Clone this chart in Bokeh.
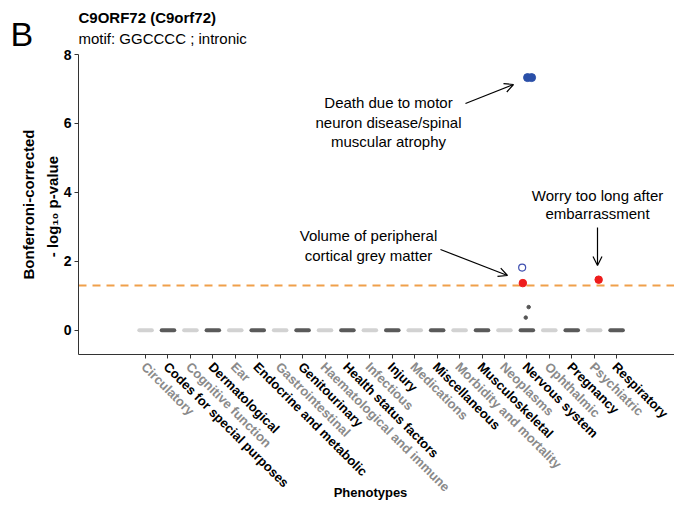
import math
from bokeh.plotting import figure
from bokeh.models import (ColumnDataSource, LabelSet, Label, Arrow, OpenHead,
                          FixedTicker, Range1d, LinearAxis)
from bokeh.core.properties import value
from bokeh.embed import file_html
from bokeh.resources import INLINE

# ---------------- data ----------------
categories = ["Circulatory", "Codes for special purposes", "Cognitive function",
              "Dermatological", "Ear", "Endocrine and metabolic", "Gastrointestinal",
              "Genitourinary", "Haematological and immune", "Health status factors",
              "Infectious", "Injury", "Medications", "Miscellaneous",
              "Morbidity and mortality", "Musculoskeletal", "Neoplasms", "Nervous system",
              "Ophthalmic", "Pregnancy", "Psychiatric", "Respiratory"]
baseline_values = [0.0] * len(categories)

# notable hits (category, horizontal jitter, -log10 p)
blue_cat = ["Nervous system", "Nervous system"]
blue_jit = [0.03, 0.21]
blue_val = [7.33, 7.33]

open_cat = ["Nervous system"]
open_jit = [-0.21]
open_val = [1.82]

red_cat = ["Nervous system", "Psychiatric"]
red_jit = [-0.18, 0.20]
red_val = [1.37, 1.47]

small_cat = ["Nervous system", "Nervous system"]
small_jit = [0.08, -0.05]
small_val = [0.675, 0.37]

y_ticks = [0, 2, 4, 6, 8]
threshold = -math.log10(0.05)

title = "C9ORF72 (C9orf72)"
subtitle = "motif: GGCCCC ; intronic"

# ---------------- layout (pixels) ----------------
FIG_W, FIG_H = 674, 500
PL, PT, PB = 78, 54, 354               # panel box inside the canvas
PX_PER_X = 22.43                        # pixels per category step
X0 = -1.99
X1 = X0 + (FIG_W - PL) / PX_PER_X
Y0, Y1 = -0.7, 8.0
kx = 1.0 / PX_PER_X
ky = (Y1 - Y0) / (PB - PT)

def dx(px):   # canvas pixel -> data x
    return X0 + (px - PL) * kx

def dy(py):   # canvas pixel -> data y
    return Y0 + (PB - py) * ky

cat_pos = {c: i + 1 for i, c in enumerate(categories)}
xs = [cat_pos[c] for c in categories]
FONT = "Liberation Sans"

p = figure(width=FIG_W, height=FIG_H,
           x_range=Range1d(dx(0), dx(FIG_W)), y_range=Range1d(dy(FIG_H), dy(0)),
           output_backend="svg", toolbar_location=None,
           x_axis_location=None, y_axis_location=None,
           min_border_left=0, min_border_right=0, min_border_top=0, min_border_bottom=0)
p.xgrid.visible = False
p.ygrid.visible = False
p.outline_line_color = None
p.background_fill_color = "white"
p.border_fill_color = "white"

xaxis = LinearAxis(fixed_location=Y0, bounds=(X0, X1))
yaxis = LinearAxis(fixed_location=X0, bounds=(Y0, Y1))
for ax in (xaxis, yaxis):
    ax.axis_line_color = "#333333"
    ax.axis_line_width = 1
    ax.major_tick_line_color = "#333333"
    ax.major_tick_out = 4
    ax.major_tick_in = 0
    ax.minor_tick_line_color = None

xaxis.ticker = FixedTicker(ticks=xs)
xaxis.major_label_text_alpha = 0.0
xaxis.major_label_text_font_size = "1px"

yaxis.ticker = FixedTicker(ticks=y_ticks)
yaxis.major_label_text_font = FONT
yaxis.major_label_text_font_style = "bold"
yaxis.major_label_text_font_size = "14px"
yaxis.major_label_text_color = "black"
yaxis.major_label_standoff = 3
p.add_layout(xaxis, "below")
p.add_layout(yaxis, "left")

# baseline clusters at 0
light, dark = "#d2d2d2", "#5a5a5a"
cols = [light if i % 2 == 0 else dark for i in range(len(categories))]
half = 0.28
seg_src = ColumnDataSource(dict(x0=[x - half for x in xs], x1=[x + half for x in xs],
                                y=baseline_values, c=cols))
p.segment(x0="x0", x1="x1", y0="y", y1="y", source=seg_src, line_color="c",
          line_width=4, line_cap="round")

# threshold line
p.segment(x0=[X0], x1=[X1], y0=[threshold], y1=[threshold], line_color="#F0A04B",
          line_dash="8 6", line_width=1.8)

# points
p.scatter([cat_pos[c] + j for c, j in zip(small_cat, small_jit)], small_val,
          size=3.5, color="#555555")
p.scatter([cat_pos[c] + j for c, j in zip(blue_cat, blue_jit)], blue_val,
          size=8, color="#2a4fa8")
p.scatter([cat_pos[c] + j for c, j in zip(open_cat, open_jit)], open_val,
          size=7, fill_color=None, line_color="#4050b0", line_width=1.2)
p.scatter([cat_pos[c] + j for c, j in zip(red_cat, red_jit)], red_val,
          size=7.5, color="#ee1c1c")

# x tick labels (alternating grey / black)
lab_cols = ["#8a8a8a" if i % 2 == 0 else "black" for i in range(len(categories))]
lab_src = ColumnDataSource(dict(x=[x - 2 * kx for x in xs], y=[dy(PB + 10)] * len(xs),
                                t=categories, c=lab_cols))
p.add_layout(LabelSet(x="x", y="y", text="t", source=lab_src, angle=-math.pi / 4,
                      text_align="left", text_baseline="middle", text_color="c",
                      text_font=value(FONT), text_font_style="bold",
                      text_font_size="13px"))

def lab(px, py, text, size="15px", style="normal", align="center", angle=0.0,
        color="black", baseline="middle"):
    p.add_layout(Label(x=dx(px), y=dy(py), text=text, text_font=FONT, text_font_size=size,
                       text_font_style=style, text_align=align, text_baseline=baseline,
                       angle=angle, text_color=color))

# axis titles
lab(370, 492, "Phenotypes", size="13px", style="bold")
lab(28, (PT + PB) / 2, "Bonferroni-corrected", size="15px", style="bold", angle=math.pi / 2)
lab(52, (PT + PB) / 2, "- log\u2081\u2080  p-value", size="15px", style="bold",
    angle=math.pi / 2)

# titles
lab(10, 33, "B", size="34px", align="left", baseline="alphabetic")
lab(PL, 17, title, size="15px", style="bold", align="left")
lab(PL, 38, subtitle, size="15px", align="left")

# annotations
for py, t in zip([102, 122, 141], ["Death due to motor", "neuron disease/spinal",
                                   "muscular atrophy"]):
    lab(388, py, t)
for py, t in zip([235, 255], ["Volume of peripheral", "cortical grey matter"]):
    lab(368, py, t)
for py, t in zip([195, 213], ["Worry too long after", "embarrassment"]):
    lab(597, py, t)

def arrow(pxa, pya, pxb, pyb):
    p.add_layout(Arrow(x_start=dx(pxa), y_start=dy(pya), x_end=dx(pxb), y_end=dy(pyb),
                       line_width=1.2, line_color="black",
                       end=OpenHead(size=9, line_width=1.2, line_color="black")))

arrow(465, 103, 513, 84)
arrow(440, 249, 507, 275)
arrow(597, 227, 597, 265)

open("out.html", "w").write(file_html(p, INLINE))
